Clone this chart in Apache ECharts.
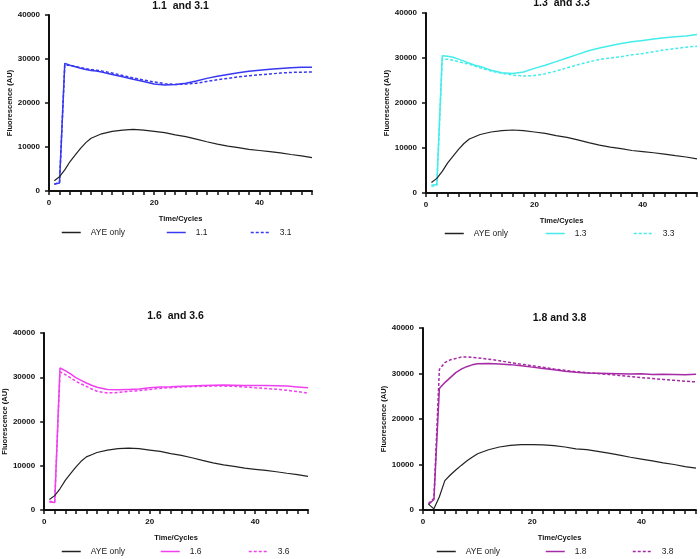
<!DOCTYPE html>
<html>
<head>
<meta charset="utf-8">
<script src="https://cdn.jsdelivr.net/npm/echarts@6/dist/echarts.min.js"></script>
<style>
	html, body { margin: 0; padding: 0; background: #fff; }
	#chart { width: 700px; height: 559px; }
</style>
</head>
<body>
<div id="chart"></div>
<script>
// 横轴: 循环数
const cycles = [1, 2, 3, 4, 5, 6, 7, 8, 9, 10, 12, 14, 16, 18, 20, 22, 24, 26, 28, 30, 32, 34, 36, 38, 40, 42, 44, 46, 48, 50]

// AYE only (前三个图相同)
const ayeOnly = [2350, 3250, 4800, 6700, 8200, 9700, 11000, 12000, 12500, 13000, 13550, 13850, 14000, 13850, 13550, 13250, 12750, 12350, 11800, 11200, 10650, 10200, 9850, 9450, 9200, 8950, 8650, 8300, 8000, 7600]
// AYE only (1.8 / 3.8 图)
const ayeOnly4 = [1300, 250, 2900, 6450, 7700, 8800, 9800, 10750, 11600, 12350, 13250, 13850, 14200, 14350, 14350, 14300, 14150, 13850, 13450, 13250, 12900, 12500, 12050, 11600, 11200, 10800, 10350, 10000, 9550, 9200]

const s11 = [1600, 1800, 29000, 28600, 28250, 27900, 27600, 27400, 27250, 27050, 26500, 25950, 25400, 24900, 24300, 24100, 24200, 24500, 25000, 25600, 26100, 26500, 26900, 27200, 27450, 27650, 27850, 28000, 28100, 28150]
const s31 = [1500, 2000, 28700, 28500, 28300, 28050, 27800, 27600, 27450, 27300, 26800, 26250, 25700, 25200, 24800, 24400, 24200, 24300, 24500, 24900, 25300, 25600, 25950, 26200, 26400, 26600, 26800, 26950, 27000, 27050]

const s13 = [1700, 1900, 30500, 30400, 30150, 29750, 29300, 28850, 28400, 28100, 27300, 26700, 26550, 26900, 27700, 28400, 29200, 30000, 30800, 31600, 32200, 32700, 33200, 33600, 33900, 34200, 34500, 34700, 34900, 35200]
const s33 = [1500, 1700, 29800, 29700, 29500, 29200, 28900, 28600, 28200, 27800, 27100, 26600, 26200, 26000, 26100, 26500, 27100, 27800, 28500, 29100, 29700, 30000, 30300, 30700, 31000, 31400, 31800, 32100, 32400, 32600]

const s16 = [1800, 1700, 32100, 31500, 30750, 29900, 29300, 28700, 28200, 27750, 27250, 27150, 27250, 27350, 27600, 27800, 27850, 27950, 28050, 28150, 28200, 28250, 28200, 28150, 28150, 28150, 28100, 28000, 27800, 27600]
const s36 = [2000, 1800, 31200, 30600, 29850, 29100, 28500, 27950, 27350, 26850, 26450, 26550, 26800, 27000, 27250, 27500, 27650, 27800, 27900, 27950, 28000, 28000, 27950, 27800, 27600, 27450, 27300, 27050, 26750, 26400]

const s18 = [1200, 2300, 26700, 28000, 29100, 30200, 30950, 31500, 31900, 32150, 32200, 32100, 31950, 31700, 31400, 31100, 30800, 30500, 30250, 30100, 30050, 30000, 29950, 29900, 29950, 29800, 29850, 29800, 29750, 29850]
const s38 = [1400, 2550, 30900, 32400, 33000, 33300, 33600, 33650, 33550, 33450, 33150, 32800, 32400, 32050, 31700, 31350, 31000, 30700, 30400, 30200, 30000, 29800, 29550, 29350, 29100, 28900, 28700, 28500, 28300, 28150]

// 纵轴刻度
const yTicks = [0, 10000, 20000, 30000, 40000]
const xLabels = [0, 20, 40]

const FONT = 'Liberation Sans, Arial, sans-serif'

// 四个子图的布局
const panels = [
	{
		title: '1.1  and 3.1', color: '#3838f2',
		grid: { left: 49, top: 15, width: 263, height: 176 },
		titleY: 1, legendY: 234, legendX: [61, 166, 250],
		names: ['AYE only', '1.1', '3.1'], data: [ayeOnly, s11, s31],
	},
	{
		title: '1.3  and 3.3', color: '#45ecec',
		grid: { left: 426, top: 13, width: 271, height: 180 },
		titleY: -2, legendY: 235, legendX: [444, 545, 633],
		names: ['AYE only', '1.3', '3.3'], data: [ayeOnly, s13, s33],
	},
	{
		title: '1.6  and 3.6', color: '#f040f0',
		grid: { left: 43, top: 333, width: 265, height: 177 },
		titleY: 311, legendY: 553, legendX: [61, 160, 248],
		names: ['AYE only', '1.6', '3.6'], data: [ayeOnly, s16, s36],
	},
	{
		title: '1.8 and 3.8', color: '#a52aa5',
		grid: { left: 423, top: 328, width: 273, height: 182 },
		titleY: 313, legendY: 553, legendX: [436, 545, 632],
		names: ['AYE only', '1.8', '3.8'], data: [ayeOnly4, s18, s38],
	},
]

const chartInstance = echarts.init(document.getElementById('chart'))

const option = {
	animation: false,
	backgroundColor: '#fff',
	textStyle: { fontFamily: FONT },
	title: [],
	grid: [],
	xAxis: [],
	yAxis: [],
	legend: [],
	series: [],
}

panels.forEach((p, i) => {
	const g = p.grid
	option.grid.push(g)
	option.title.push({
		text: p.title,
		left: g.left + g.width / 2,
		top: p.titleY,
		textAlign: 'center',
		padding: 0,
		textStyle: { fontFamily: FONT, fontSize: 10.5, fontWeight: 'bold', color: '#111' },
	})
	option.xAxis.push({
		type: 'value',
		gridIndex: i,
		min: 0,
		max: 50,
		interval: 2,
		name: 'Time/Cycles',
		nameLocation: 'middle',
		nameGap: 24,
		nameTextStyle: { fontFamily: FONT, fontSize: 7.5, fontWeight: 'bold', color: '#111' },
		axisLine: { lineStyle: { color: '#111', width: 2 } },
		axisTick: { length: 4, lineStyle: { color: '#111', width: 1.5 } },
		axisLabel: {
			margin: 8,
			fontFamily: FONT, fontSize: 8, fontWeight: 'bold', color: '#111',
			formatter: v => (xLabels.indexOf(v) >= 0 ? String(v) : ''),
		},
		splitLine: { show: false },
	})
	option.yAxis.push({
		type: 'value',
		gridIndex: i,
		min: yTicks[0],
		max: yTicks[yTicks.length - 1],
		interval: yTicks[1] - yTicks[0],
		name: 'Fluorescence (AU)',
		nameLocation: 'middle',
		nameGap: 33,
		nameTextStyle: { fontFamily: FONT, fontSize: 7.5, fontWeight: 'bold', color: '#111' },
		axisLine: { show: true, lineStyle: { color: '#111', width: 2 } },
		axisTick: { show: true, length: 4, lineStyle: { color: '#111', width: 1.5 } },
		axisLabel: {
			margin: 9, fontFamily: FONT, fontSize: 8, fontWeight: 'bold', color: '#111',
			formatter: v => String(v),
		},
		splitLine: { show: false },
	})
	// 三条线: 黑色对照, 实线, 虚线
	const styles = [
		{ color: '#222', width: 1.2, type: 'solid' },
		{ color: p.color, width: 1.5, type: 'solid' },
		{ color: p.color, width: 1.5, type: [3, 2] },
	]
	p.names.forEach((name, k) => {
		option.series.push({
			name: name,
			type: 'line',
			xAxisIndex: i,
			yAxisIndex: i,
			symbol: 'none',
			smooth: false,
			z: 3 - k,
			color: styles[k].color,
			lineStyle: styles[k],
			data: cycles.map((c, j) => [c, p.data[k][j]]),
		})
		// 每个图例单独定位, 只画线不画点
		option.legend.push({
			data: [name],
			left: p.legendX[k],
			top: p.legendY - 6,
			padding: 0,
			itemWidth: 19,
			itemHeight: 10,
			selectedMode: false,
			itemStyle: { opacity: 0 },
			lineStyle: { width: 1.5, color: 'inherit', type: 'inherit' },
			textStyle: { fontFamily: FONT, fontSize: 8.5, color: '#222', padding: [0, 0, 0, 5] },
		})
	})
})

chartInstance.setOption(option)
</script>
</body>
</html>
